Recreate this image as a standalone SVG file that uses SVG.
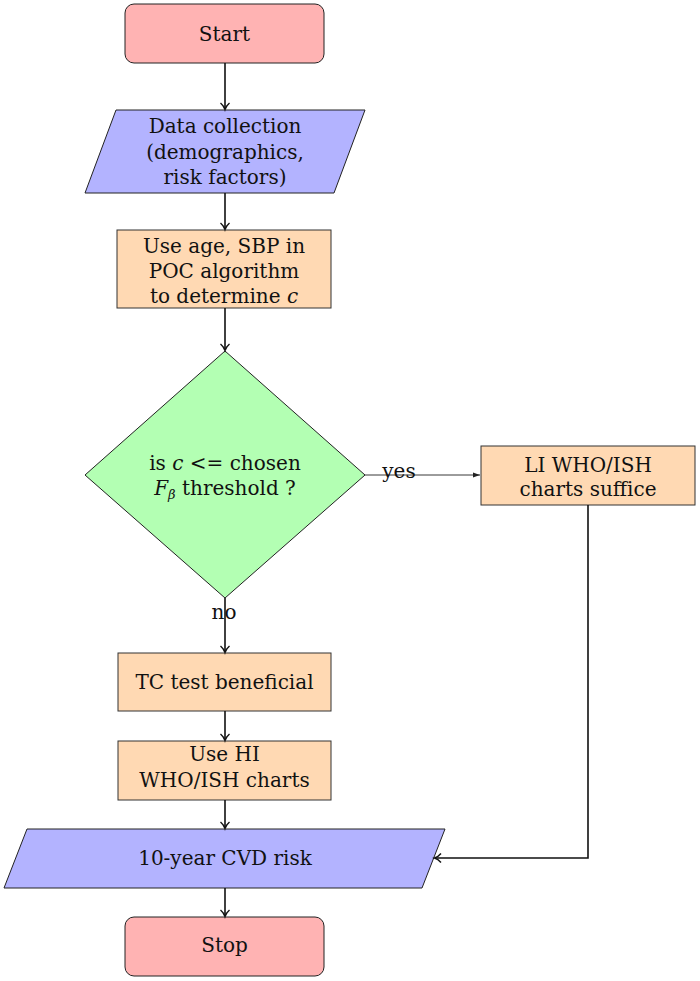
<svg xmlns="http://www.w3.org/2000/svg" width="700" height="981" viewBox="0 0 700 981">
<style>
text{font-family:"DejaVu Serif","Liberation Serif",serif;font-size:20px;fill:#111;text-anchor:middle}
.term{fill:#ffb3b3;stroke:#222;stroke-width:1}
.io{fill:#b3b3ff;stroke:#222;stroke-width:1}
.proc{fill:#ffd9b3;stroke:#333;stroke-width:1}
.dec{fill:#b3ffb3;stroke:#222;stroke-width:1}
.c{fill:none;stroke:#111;stroke-width:1.6}
.thin{fill:none;stroke:#222;stroke-width:0.9}
.i{font-style:italic}
</style>
<defs>
<marker id="ah" markerWidth="12" markerHeight="12" refX="9" refY="6" orient="auto" markerUnits="userSpaceOnUse">
<path d="M3,1.5 Q6,5 9.5,6 Q6,7 3,10.5" fill="none" stroke="#111" stroke-width="1.4"/>
</marker>
<marker id="ah2" markerWidth="10" markerHeight="10" refX="8" refY="5" orient="auto" markerUnits="userSpaceOnUse">
<path d="M1,2.5 L8,5 L1,7.5 Z" fill="#222"/>
</marker>
</defs>
<rect width="700" height="981" fill="#fff"/>
<g id="start"><rect class="term" x="125" y="4" width="199" height="59" rx="9"/><text x="224.5" y="41">Start</text></g>
<g id="data"><polygon class="io" points="116,110 365,110 334,193 85,193"/>
<text x="225" y="133">Data collection</text><text x="225" y="159">(demographics,</text><text x="225" y="184">risk factors)</text></g>
<g id="poc"><rect class="proc" x="117" y="230" width="214" height="78"/>
<text x="224" y="253">Use age, SBP in</text><text x="224" y="278">POC algorithm</text><text x="224" y="303">to determine <tspan class="i">c</tspan></text></g>
<g id="decision"><polygon class="dec" points="225,351 365,475 225,598 85,475"/>
<text x="225" y="470">is <tspan class="i">c</tspan> &lt;= chosen</text>
<text x="225" y="495"><tspan class="i">F</tspan><tspan class="i" font-size="13" dy="4">β</tspan><tspan dy="-4"> threshold ?</tspan></text></g>
<g id="li"><rect class="proc" x="481" y="446" width="214" height="59"/>
<text x="588" y="472">LI WHO/ISH</text><text x="588" y="496">charts suffice</text></g>
<g id="tc"><rect class="proc" x="118" y="653" width="213" height="58"/><text x="224.5" y="689">TC test beneficial</text></g>
<g id="hi"><rect class="proc" x="118" y="741" width="213" height="59"/>
<text x="224.5" y="761">Use HI</text><text x="224.5" y="787">WHO/ISH charts</text></g>
<g id="cvd"><polygon class="io" points="27,829 445,829 422,888 4,888"/><text x="225" y="865">10-year CVD risk</text></g>
<g id="stop"><rect class="term" x="125" y="917" width="199" height="59" rx="9"/><text x="224.5" y="952">Stop</text></g>
<g id="connectors">
<line class="c" x1="225" y1="63" x2="225" y2="109" marker-end="url(#ah)"/>
<line class="c" x1="225" y1="193" x2="225" y2="229" marker-end="url(#ah)"/>
<line class="c" x1="225" y1="308" x2="225" y2="350" marker-end="url(#ah)"/>
<line class="thin" x1="365" y1="475" x2="480" y2="475" marker-end="url(#ah2)"/>
<text x="399" y="478">yes</text>
<line class="c" x1="225" y1="598" x2="225" y2="652" marker-end="url(#ah)"/>
<text x="224" y="619">no</text>
<line class="c" x1="225" y1="711" x2="225" y2="740" marker-end="url(#ah)"/>
<line class="c" x1="225" y1="800" x2="225" y2="828" marker-end="url(#ah)"/>
<line class="c" x1="225" y1="888" x2="225" y2="916" marker-end="url(#ah)"/>
<polyline class="c" points="588,505 588,858 435,858" marker-end="url(#ah)"/>
</g>
</svg>
